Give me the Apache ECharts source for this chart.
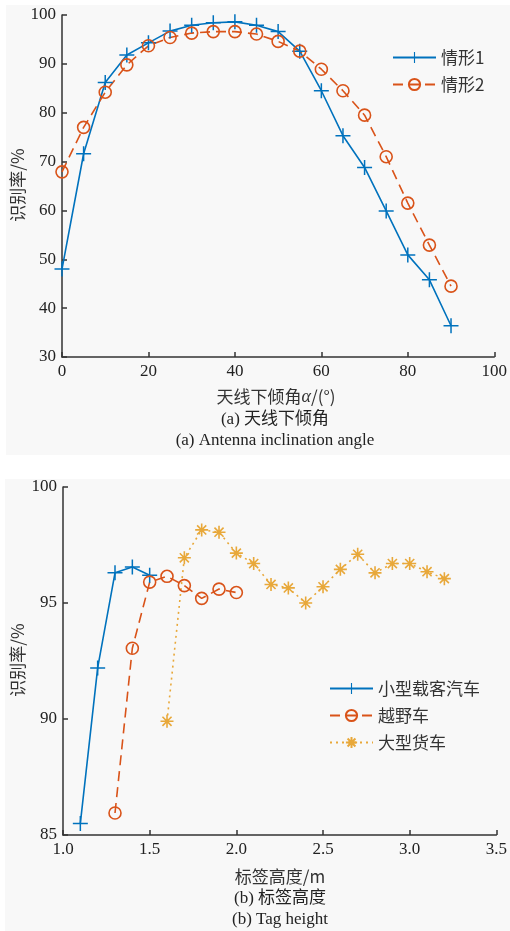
<!DOCTYPE html>
<html>
<head>
<meta charset="utf-8">
<script src="https://cdn.jsdelivr.net/npm/echarts@6/dist/echarts.min.js"></script>
<style>
html,body{margin:0;padding:0;background:#fff;}
#chart{width:510px;height:931px;}
</style>
</head>
<body>
<div id="chart"></div>
<script>
/* ---------- data: (a) antenna inclination ---------- */
const angles = [0,5,10,15,20,25,30,35,40,45,50,55,60,65,70,75,80,85,90];
const case1 = [48,71.6,86.2,91.8,94.3,96.7,97.9,98.4,98.6,97.9,96.6,92.6,84.5,75.3,68.8,59.9,50.9,45.8,36.4];
const case2 = [67.9,77,84.2,89.8,93.7,95.4,96.3,96.6,96.6,96.1,94.6,92.6,88.9,84.5,79.5,71,61.5,52.9,44.5];

/* ---------- data: (b) tag height ---------- */
const hCar   = [1.1,1.2,1.3,1.4,1.5];
const vCar   = [85.5,92.2,96.3,96.55,96.2];
const hSuv   = [1.3,1.4,1.5,1.6,1.7,1.8,1.9,2.0];
const vSuv   = [85.95,93.05,95.9,96.15,95.75,95.2,95.6,95.45];
const hTruck = [1.6,1.7,1.8,1.9,2.0,2.1,2.2,2.3,2.4,2.5,2.6,2.7,2.8,2.9,3.0,3.1,3.2];
const vTruck = [89.9,96.95,98.15,98.05,97.15,96.7,95.8,95.65,95.0,95.7,96.45,97.1,96.3,96.7,96.7,96.35,96.05];

const names1 = ['情形1','情形2'];
const names2 = ['小型载客汽车','越野车','大型货车'];

/* ---------- style ---------- */
const BLUE='#0072BD', RED='#D95319', GOLD='#E8A83A';
const NUM_FONT='"Liberation Serif","Noto Sans CJK SC",serif';
const TXT_FONT='"Noto Sans CJK SC","Liberation Serif",sans-serif';
const PLUS='path://M9,0h2v9h9v2h-9v9h-2v-9h-9v-2h9z';
const STAR='path://M0,-10L0,10M-10,0L10,0M-7,-7L7,7M-7,7L7,-7';
const zip=(xs,ys)=>xs.map((x,i)=>[x,ys[i]]);

function axisCommon(){
  return {
    axisLine:{show:true,lineStyle:{color:'#333',width:1.5}},
    axisTick:{show:true,inside:true,length:5,lineStyle:{color:'#333',width:1.5}},
    axisLabel:{color:'#222',fontFamily:NUM_FONT,fontSize:17,margin:6},
    splitLine:{show:false}
  };
}

const chart = echarts.init(document.getElementById('chart'));
chart.setOption({
  animation:false,
  backgroundColor:'#fff',
  graphic:[
    {type:'rect',silent:true,z:-10,shape:{x:6,y:5,width:504,height:450},style:{fill:'#f8f8f8'}},
    {type:'rect',silent:true,z:-10,shape:{x:5,y:479,width:505,height:452},style:{fill:'#f8f8f8'}},
    {type:'text',x:18,y:185,rotation:Math.PI/2,style:{text:'识别率/%',font:'17px '+TXT_FONT,fill:'#333',align:'center',verticalAlign:'middle'}},
    {type:'text',x:18,y:660,rotation:Math.PI/2,style:{text:'识别率/%',font:'17px '+TXT_FONT,fill:'#333',align:'center',verticalAlign:'middle'}},
    {type:'text',x:276,y:397,style:{
      text:'{c|天线下倾角}{i|α}{c|/(°)}',align:'center',verticalAlign:'middle',
      rich:{c:{fontFamily:TXT_FONT,fontSize:17,fill:'#333'},i:{fontFamily:NUM_FONT,fontStyle:'italic',fontSize:18,fill:'#333'}}}},
    {type:'text',x:275,y:420,style:{text:'(a) 天线下倾角',font:'17px '+NUM_FONT,fill:'#222',align:'center',verticalAlign:'middle'}},
    {type:'text',x:275,y:441,style:{text:'(a) Antenna inclination angle',font:'17px '+NUM_FONT,fill:'#222',align:'center',verticalAlign:'middle'}},
    {type:'text',x:280,y:877,style:{text:'标签高度/m',font:'17px '+TXT_FONT,fill:'#333',align:'center',verticalAlign:'middle'}},
    {type:'text',x:280,y:899,style:{text:'(b) 标签高度',font:'17px '+NUM_FONT,fill:'#222',align:'center',verticalAlign:'middle'}},
    {type:'text',x:280,y:920,style:{text:'(b) Tag height',font:'17px '+NUM_FONT,fill:'#222',align:'center',verticalAlign:'middle'}}
  ],
  legend:[
    {left:387,top:44,orient:'vertical',itemWidth:43,itemHeight:14,itemGap:10,
     textStyle:{fontFamily:TXT_FONT,fontSize:17,color:'#333'},data:names1},
    {left:324,top:675,orient:'vertical',itemWidth:43,itemHeight:14,itemGap:10,
     textStyle:{fontFamily:TXT_FONT,fontSize:17,color:'#333'},data:names2}
  ],
  grid:[
    {left:62,right:13,top:15,bottom:574},
    {left:63,right:9,top:487,bottom:96}
  ],
  xAxis:[
    Object.assign(axisCommon(),{type:'value',gridIndex:0,min:0,max:100,interval:20}),
    Object.assign(axisCommon(),{type:'value',gridIndex:1,min:1.0,max:3.5,interval:0.5,
      axisLabel:Object.assign(axisCommon().axisLabel,{formatter:v=>v.toFixed(1)})})
  ],
  yAxis:[
    Object.assign(axisCommon(),{type:'value',gridIndex:0,min:30,max:100,interval:10}),
    Object.assign(axisCommon(),{type:'value',gridIndex:1,min:85,max:100,interval:5})
  ],
  series:[
    {name:names1[0],type:'line',xAxisIndex:0,yAxisIndex:0,data:zip(angles,case1),
     symbol:PLUS,symbolSize:15,lineStyle:{color:BLUE,width:1.6},itemStyle:{color:BLUE}},
    {name:names1[1],type:'line',xAxisIndex:0,yAxisIndex:0,data:zip(angles,case2),
     symbol:'circle',symbolSize:12,lineStyle:{color:RED,width:1.6,type:[10,6]},
     itemStyle:{color:'rgba(0,0,0,0)',borderColor:RED,borderWidth:1.6}},
    {name:names2[0],type:'line',xAxisIndex:1,yAxisIndex:1,data:zip(hCar,vCar),
     symbol:PLUS,symbolSize:15,lineStyle:{color:BLUE,width:1.6},itemStyle:{color:BLUE}},
    {name:names2[1],type:'line',xAxisIndex:1,yAxisIndex:1,data:zip(hSuv,vSuv),
     symbol:'circle',symbolSize:12,lineStyle:{color:RED,width:1.6,type:[10,6]},
     itemStyle:{color:'rgba(0,0,0,0)',borderColor:RED,borderWidth:1.6}},
    {name:names2[2],type:'line',xAxisIndex:1,yAxisIndex:1,data:zip(hTruck,vTruck),
     symbol:STAR,symbolSize:13,lineStyle:{color:GOLD,width:1.6,type:[2,4]},
     itemStyle:{color:'none',borderColor:GOLD,borderWidth:1.6}}
  ]
});
</script>
</body>
</html>
